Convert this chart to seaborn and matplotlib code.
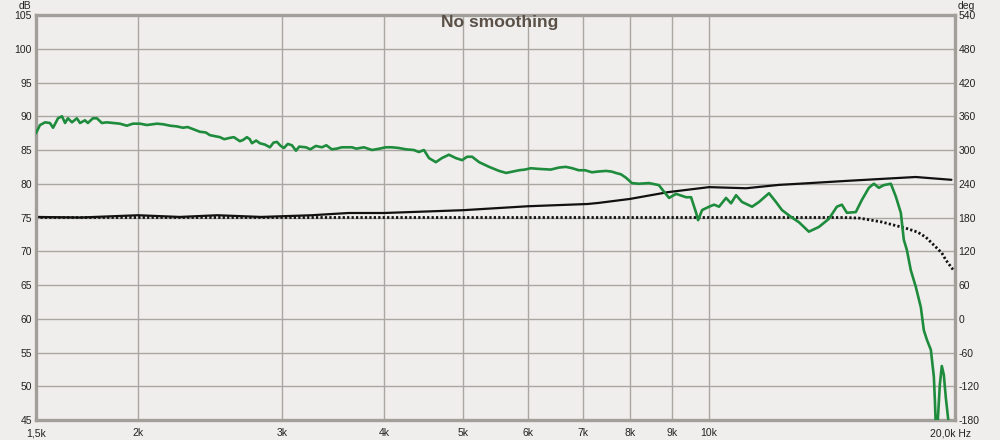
import numpy as np
import pandas as pd
import matplotlib
matplotlib.use("Agg")
import matplotlib.pyplot as plt
import seaborn as sns
from matplotlib.ticker import FixedLocator, FixedFormatter, NullLocator

# ---------------- data ----------------
spl_freq_hz = [1500, 1517, 1539, 1560, 1574, 1596, 1614, 1628, 1641, 1660, 1683, 1698,
               1722, 1736, 1761, 1781, 1806, 1831, 1863, 1900, 1938, 1971, 2011, 2050,
               2110, 2150, 2189, 2230, 2270, 2300, 2335, 2381, 2420, 2449, 2519, 2550,
               2591, 2620, 2665, 2690, 2718, 2740, 2757, 2790, 2819, 2860, 2900, 2930,
               2958, 2990, 3017, 3050, 3086, 3121, 3150, 3210, 3250, 3301, 3358, 3400,
               3453, 3500, 3552, 3623, 3655, 3700, 3780, 3867, 3950, 4020, 4091, 4170,
               4256, 4350, 4414, 4477, 4541, 4630, 4709, 4803, 4898, 4986, 5056, 5128,
               5230, 5380, 5533, 5644, 5853, 5950, 6050, 6188, 6400, 6550, 6677, 6800,
               6926, 7050, 7188, 7300, 7477, 7600, 7690, 7800, 7910,
               8045, 8205, 8439, 8680, 8809, 8934, 9112, 9373, 9505, 9641, 9695, 9805,
               10000, 10142, 10285, 10490, 10639, 10790, 10974, 11288, 11511, 11839, 12075,
               12282, 12594, 12883, 13248, 13628, 14017, 14336, 14540, 14746, 15122, 15382,
               15690, 15912, 16137, 16366, 16692, 16928, 17168, 17313, 17462, 17657, 17910,
               18164, 18318, 18475, 18684, 18843, 18896, 18974, 19055, 19162, 19270, 19380,
               19489, 19655, 19767]
spl_db = [87.5, 88.7, 89.1, 89.0, 88.3, 89.7, 90.0, 89.0, 89.7, 89.1, 89.7, 89.0,
          89.4, 89.0, 89.7, 89.7, 89.0, 89.1, 89.0, 88.9, 88.6, 88.9, 88.9, 88.7,
          88.9, 88.8, 88.6, 88.5, 88.3, 88.4, 88.1, 87.7, 87.6, 87.2, 86.9, 86.6,
          86.8, 86.9, 86.3, 86.5, 86.9, 86.6, 86.0, 86.4, 86.0, 85.8, 85.4, 86.1,
          86.2, 85.6, 85.3, 85.9, 85.7, 84.9, 85.5, 85.4, 85.1, 85.6, 85.4, 85.7,
          85.1, 85.2, 85.4, 85.4, 85.4, 85.2, 85.4, 85.0, 85.2, 85.4, 85.4, 85.3,
          85.1, 85.0, 84.7, 85.0, 83.8, 83.2, 83.8, 84.3, 83.8, 83.5, 84.0, 84.0,
          83.2, 82.5, 81.9, 81.6, 82.0, 82.1, 82.3, 82.2, 82.1, 82.4, 82.5, 82.3,
          82.0, 82.0, 81.7, 81.8, 81.9, 81.8, 81.6, 81.4, 80.9,
          80.1, 80.0, 80.1, 79.8, 78.8, 77.9, 78.5, 78.0, 78.0, 75.7, 74.6, 76.1,
          76.6, 76.9, 76.6, 77.9, 77.1, 78.3, 77.3, 76.6, 77.3, 78.6, 77.3,
          76.1, 75.1, 74.3, 72.9, 73.6, 74.8, 76.6, 76.9, 75.7, 75.8, 77.6,
          79.4, 80.0, 79.4, 79.8, 80.0, 78.1, 75.7, 71.7, 70.2, 67.2, 64.7,
          61.7, 58.3, 56.9, 55.4, 51.4, 48.0, 42.0, 45.0, 50.2, 53.0, 51.7,
          48.3, 44.3, 41.0]

phase_freq_hz = [1500, 1700, 2000, 2250, 2500, 2830, 3260, 3620, 4000, 5000, 6000,
                 7100, 7330, 8000, 8900, 10000, 11100, 12180, 12880, 14700, 17900, 19800]
phase_deg = [181, 180, 184, 181, 184, 181, 184, 188, 188, 193, 200,
             204, 206, 213, 225, 234, 232, 238, 240, 245, 252, 247]

minphase_freq_hz = [1500, 5000, 10000, 14600, 15256, 16277, 17411, 18000, 18422,
                    19270, 19500, 19900]
minphase_deg = [180, 180, 180, 180, 179, 172, 161, 154, 145, 117, 104, 87]

x_ticks = [1500, 2000, 3000, 4000, 5000, 6000, 7000, 8000, 9000, 10000]
x_tick_labels = ["1,5k", "2k", "3k", "4k", "5k", "6k", "7k", "8k", "9k", "10k"]
db_ticks = [45, 50, 55, 60, 65, 70, 75, 80, 85, 90, 95, 100, 105]
deg_ticks = [-180, -120, -60, 0, 60, 120, 180, 240, 300, 360, 420, 480, 540]

# ---------------- style ----------------
bg = "#efeeec"
grid_c = "#aaa7a3"
spine_c = "#a29e9a"
txt_c = "#222222"

sns.set_style("white", rc={"axes.facecolor": bg, "figure.facecolor": bg})
plt.rcParams["font.family"] = ["Liberation Sans", "DejaVu Sans"]
plt.rcParams["axes.unicode_minus"] = False

fig = plt.figure(figsize=(10, 4.4), dpi=100, facecolor=bg)
left_px, right_px, top_px, bot_px = 36, 955, 15, 420
ax = fig.add_axes([left_px / 1000, 1 - bot_px / 440,
                   (right_px - left_px) / 1000, (bot_px - top_px) / 440])
ax.set_facecolor(bg)
ax2 = ax.twinx()

# primary axis: phase (ticks on the right); twin: dB (ticks on the left)
ax.set_xscale("log")
ax.set_xlim(1500, 20000)
ax.set_ylim(-180, 540)
ax2.set_ylim(45, 105)

df_phase = pd.DataFrame({"f": phase_freq_hz, "deg": phase_deg})
df_min = pd.DataFrame({"f": minphase_freq_hz, "deg": minphase_deg})
df_spl = pd.DataFrame({"f": spl_freq_hz, "db": spl_db})

sns.lineplot(data=df_min, x="f", y="deg", ax=ax, color="#111111", lw=2.0,
             estimator=None, sort=False, linestyle=(0, (0.8, 0.8)))
sns.lineplot(data=df_phase, x="f", y="deg", ax=ax, color="#111111", lw=1.6,
             estimator=None, sort=False)
sns.lineplot(data=df_spl, x="f", y="db", ax=ax2, color="#1e8c3c", lw=1.9,
             estimator=None, sort=False)

for a in (ax, ax2):
    a.set_xlabel("")
    a.set_ylabel("")
    a.xaxis.set_major_locator(FixedLocator(x_ticks))
    a.xaxis.set_major_formatter(FixedFormatter(x_tick_labels))
    a.xaxis.set_minor_locator(NullLocator())

ax.yaxis.set_major_locator(FixedLocator(deg_ticks))
ax.yaxis.tick_right()
ax2.yaxis.set_major_locator(FixedLocator(db_ticks))
ax2.yaxis.tick_left()
ax.yaxis.set_minor_locator(NullLocator())
ax2.yaxis.set_minor_locator(NullLocator())

ax.grid(True, which="major", color=grid_c, lw=1.0)
ax.set_axisbelow(True)
ax2.grid(False)

ax.tick_params(axis="x", length=0, pad=6, labelsize=7.5, colors=txt_c)
ax.tick_params(axis="y", length=0, pad=2.5, labelsize=7.5, colors=txt_c)
ax2.tick_params(axis="y", length=0, pad=3, labelsize=7.5, colors=txt_c)
ax2.tick_params(axis="x", length=0, labelbottom=False)

for s in ax.spines.values():
    s.set_visible(True)
    s.set_color(spine_c)
    s.set_linewidth(2.4)
for s in ax2.spines.values():
    s.set_visible(False)

fig.text(0.5, 1 - 23 / 440, "No smoothing", ha="center", va="center",
         fontsize=12.6, fontweight="bold", color="#5a5048")
fig.text(25 / 1000, 1 - 6 / 440, "dB", ha="center", va="center",
         fontsize=7.5, color=txt_c)
fig.text(966 / 1000, 1 - 6 / 440, "deg", ha="center", va="center",
         fontsize=7.5, color=txt_c)
fig.text(951 / 1000, 1 - 433 / 440, "20,0k Hz", ha="center", va="center",
         fontsize=7.5, color=txt_c)

fig.savefig("out.png", dpi=100, facecolor=bg)
